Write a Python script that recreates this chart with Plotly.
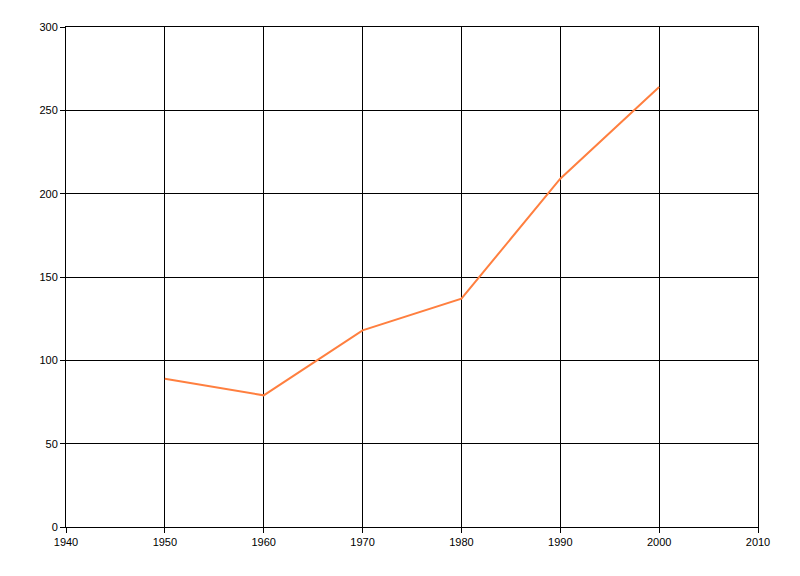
import plotly.graph_objects as go

years = [1950, 1960, 1970, 1980, 1990, 2000]
values = [89, 79, 118, 137, 209, 264]

x_ticks = [1940, 1950, 1960, 1970, 1980, 1990, 2000, 2010]
y_ticks = [0, 50, 100, 150, 200, 250, 300]

fig = go.Figure()
fig.add_trace(go.Scatter(x=years, y=values, mode="lines",
                         line=dict(color="#FF7F3F", width=2)))

axis_style = dict(showgrid=True, gridcolor="black", gridwidth=1,
                  showline=True, linecolor="black", linewidth=1, mirror=True,
                  ticks="outside", ticklen=5, tickcolor="black",
                  zeroline=False, tickfont=dict(family="Liberation Sans", size=11, color="black"))

fig.update_xaxes(range=[1940, 2010], tickvals=x_ticks, **axis_style)
fig.update_yaxes(range=[0, 300], tickvals=y_ticks, **axis_style)

# page body has an 8px margin, so shrink the figure to keep the plot in place
fig.update_layout(width=792, height=568, showlegend=False,
                  margin=dict(l=58, r=42, t=19, b=49),
                  plot_bgcolor="white", paper_bgcolor="white")

fig.write_html("out.html")
